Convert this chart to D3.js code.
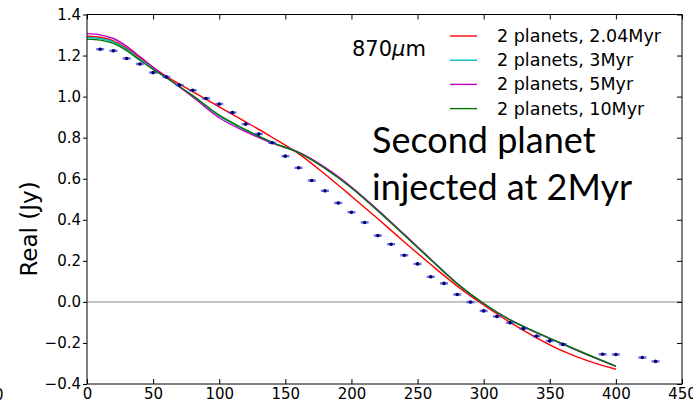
<!DOCTYPE html>
<html>
<head>
<meta charset="utf-8">
<script src="https://cdn.jsdelivr.net/npm/d3@7"></script>
<style>
  body { margin: 0; background: #fff; }
  svg { display: block; font-family: "DejaVu Sans", sans-serif; }
</style>
</head>
<body>
<div id="chart"></div>
<script>
// model curves (x in klambda, finer sampling near the peak)
const modelX  = [0, 10, 20, 30, 40, 50, 60, 80, 100, 120, 140, 160, 180, 200, 220, 240, 260, 280, 300, 320, 340, 360, 380, 400];
const red     = [1.294, 1.289, 1.272, 1.236, 1.188, 1.142, 1.099, 1.024, 0.950, 0.877, 0.802, 0.722, 0.622, 0.515, 0.405, 0.292, 0.182, 0.077, -0.015, -0.100, -0.175, -0.240, -0.290, -0.328];
const cyan    = [1.288, 1.283, 1.266, 1.230, 1.182, 1.136, 1.093, 1.003, 0.906, 0.836, 0.776, 0.728, 0.652, 0.557, 0.445, 0.327, 0.207, 0.089, -0.008, -0.088, -0.150, -0.207, -0.262, -0.314];
const magenta = [1.307, 1.301, 1.283, 1.245, 1.195, 1.143, 1.094, 0.998, 0.897, 0.829, 0.773, 0.729, 0.655, 0.560, 0.448, 0.329, 0.208, 0.090, -0.009, -0.088, -0.150, -0.206, -0.262, -0.314];
const green   = [1.280, 1.275, 1.259, 1.224, 1.177, 1.133, 1.092, 1.005, 0.910, 0.839, 0.777, 0.727, 0.650, 0.555, 0.443, 0.325, 0.205, 0.088, -0.008, -0.088, -0.148, -0.205, -0.260, -0.313];

// observed visibilities
const obsX = [10, 20, 30, 40, 50, 60, 70, 80, 90, 100, 110, 120, 130, 140, 150, 160, 170, 180, 190, 200,
              210, 220, 230, 240, 250, 260, 270, 280, 290, 300, 310, 320, 330, 340, 350, 360, 390, 400, 420, 430];
const obsY = [1.231, 1.223, 1.186, 1.159, 1.117, 1.096, 1.056, 1.031, 0.991, 0.964, 0.922, 0.866, 0.818, 0.775, 0.710, 0.653, 0.591, 0.541, 0.482, 0.437,
              0.387, 0.323, 0.281, 0.227, 0.185, 0.122, 0.090, 0.036, -0.001, -0.044, -0.071, -0.102, -0.130, -0.167, -0.190, -0.207, -0.255, -0.256, -0.271, -0.290];

const seriesNames = ["2 planets, 2.04Myr", "2 planets, 3Myr", "2 planets, 5Myr", "2 planets, 10Myr"];
const seriesValues = [red, cyan, magenta, green];
const seriesColors = ["#ff0000", "#00bfbf", "#bf00bf", "#007800"];

const xTicks = [0, 50, 100, 150, 200, 250, 300, 350, 400, 450];
const yTicks = [-0.4, -0.2, 0.0, 0.2, 0.4, 0.6, 0.8, 1.0, 1.2, 1.4];

const W = 693, H = 404;
const margin = { top: 14.5, right: 11, bottom: 20, left: 87 };
const width = W - margin.left - margin.right;
const height = H - margin.top - margin.bottom;

const svg = d3.select("#chart").append("svg").attr("width", W).attr("height", H);
const g = svg.append("g").attr("transform", `translate(${margin.left},${margin.top})`);

const x = d3.scaleLinear().domain([0, 450]).range([0, width]);
const y = d3.scaleLinear().domain([-0.4, 1.4]).range([height, 0]);

// zero line
g.append("line")
  .attr("x1", 0).attr("x2", width)
  .attr("y1", y(0)).attr("y2", y(0))
  .attr("stroke", "#b0b0b0").attr("stroke-width", 1.5);

// axes
const fmt = d => d3.format(".1f")(d).replace("-", "\u2212");
const axBottom = g.append("g").attr("transform", `translate(0,${height})`)
  .call(d3.axisBottom(x).tickValues(xTicks).tickSize(-5).tickPadding(4).tickFormat(d3.format("d")));
const axTop = g.append("g").call(d3.axisTop(x).tickValues(xTicks).tickSize(-5).tickFormat(""));
const axLeft = g.append("g").call(d3.axisLeft(y).tickValues(yTicks).tickSize(4).tickPadding(2).tickFormat(fmt));
const axRight = g.append("g").attr("transform", `translate(${width},0)`)
  .call(d3.axisRight(y).tickValues(yTicks).tickSize(-5).tickFormat(""));
[axBottom, axTop, axLeft, axRight].forEach(a => {
  a.select(".domain").remove();
  a.selectAll("text").attr("font-size", 15).attr("fill", "#000").attr("font-family", "DejaVu Sans");
  a.selectAll("line").attr("stroke", "#000");
});

// curves
const line = d3.line().x((d, i) => x(modelX[i])).y(d => y(d)).curve(d3.curveCatmullRom.alpha(0.5));
seriesValues.forEach((vals, k) => {
  g.append("path").datum(vals)
    .attr("d", line)
    .attr("fill", "none")
    .attr("stroke", seriesColors[k])
    .attr("stroke-width", 1.4);
});

// observed points with error bars
const errHalf = 3;
const pts = g.append("g");
obsX.forEach((xv, i) => {
  pts.append("line")
    .attr("x1", x(xv - errHalf)).attr("x2", x(xv + errHalf))
    .attr("y1", y(obsY[i])).attr("y2", y(obsY[i]))
    .attr("stroke", "#3a3aff").attr("stroke-width", 2.4).attr("opacity", 0.75);
  pts.append("circle")
    .attr("cx", x(xv)).attr("cy", y(obsY[i]))
    .attr("r", 1.8).attr("fill", "#000050");
});

// frame
g.append("rect").attr("width", width).attr("height", height)
  .attr("fill", "none").attr("stroke", "#000").attr("stroke-width", 1);

// legend
const leg = svg.append("g").attr("transform", "translate(450,36)");
seriesNames.forEach((name, k) => {
  const row = leg.append("g").attr("transform", `translate(0,${k * 24.2})`);
  row.append("line").attr("x1", 0).attr("x2", 27).attr("stroke", seriesColors[k]).attr("stroke-width", 1.4);
  row.append("text").attr("x", 47).attr("y", 6).attr("font-size", 17.5).text(name);
});

// annotations
const wl = svg.append("text").attr("x", 352).attr("y", 56).attr("font-size", 21);
wl.append("tspan").text("870");
wl.append("tspan").attr("font-style", "italic").text("\u03bc");
wl.append("tspan").text("m");

svg.append("text").attr("x", 372).attr("y", 153).attr("font-size", 36)
  .attr("font-family", "Lato, sans-serif").text("Second planet");
svg.append("text").attr("x", 372).attr("y", 200).attr("font-size", 36)
  .attr("font-family", "Lato, sans-serif").text("injected at 2Myr");

// y label
svg.append("text")
  .attr("transform", "translate(37,229) rotate(-90)")
  .attr("text-anchor", "middle")
  .attr("font-size", 23)
  .text("Real (Jy)");

// clipped tick label from a neighbouring panel
svg.append("text").attr("x", -6).attr("y", 400).attr("font-size", 15).text("0");
</script>
</body>
</html>
